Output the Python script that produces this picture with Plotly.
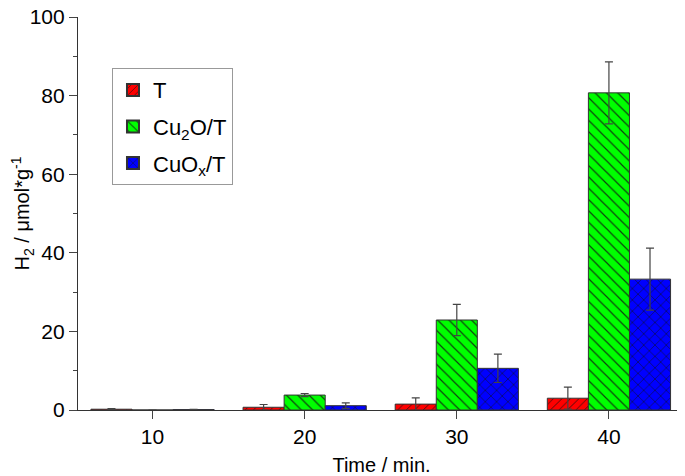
import plotly.graph_objects as go

times = [10, 20, 30, 40]
series = ["T", "Cu<sub>2</sub>O/T", "CuO<sub>x</sub>/T"]
h2_t = [0.2, 0.7, 1.5, 3.0]
err_t = [0.15, 0.7, 1.6, 2.8]
h2_cu2o = [0.0, 3.8, 22.9, 80.7]
err_cu2o = [0.0, 0.4, 4.0, 7.9]
h2_cuox = [0.1, 1.1, 10.6, 33.3]
err_cuox = [0.05, 0.7, 3.6, 7.9]

colors = ["#ff0000", "#00ff00", "#0000ff"]
shapes = ["/", "\\", "x"]
pattern_sizes = [6, 8, 8]

fig = go.Figure()
for i, (name, vals, errs) in enumerate(zip(series, [h2_t, h2_cu2o, h2_cuox],
                                           [err_t, err_cu2o, err_cuox])):
    fig.add_trace(go.Bar(
        x=times, y=vals, name=name, legendgroup=f"g{i}",
        marker=dict(color=colors[i], line=dict(color="#333333", width=1),
                    pattern=dict(shape=shapes[i], fgcolor="#111111", fgopacity=0.8,
                                 size=pattern_sizes[i], solidity=0.15)),
        error_y=dict(type="data", array=errs, color="#444444", thickness=1.2, width=4),
    ))

# the page body adds 8px of margin, so the figure is 8px smaller than the window
fig.update_layout(
    width=677, height=468,
    margin=dict(l=70, r=0, t=9, b=66),
    barmode="group", bargap=0.19, bargroupgap=0,
    plot_bgcolor="white", paper_bgcolor="white",
    font=dict(family="Liberation Sans, Arial", size=21, color="black"),
    legend=dict(x=0.056, y=0.87, xanchor="left", yanchor="top",
                bordercolor="#999999", borderwidth=1, bgcolor="white",
                font=dict(size=22), itemsizing="constant", tracegroupgap=5),
    xaxis=dict(range=[5.1, 45], tickvals=times, ticks="outside", ticklen=8,
               showline=True, linecolor="#333333", linewidth=1.2, showgrid=False,
               zeroline=False, automargin=False, ticklabeloverflow="allow",
               title=dict(text="Time / min.", standoff=18, font=dict(size=20))),
    yaxis=dict(range=[0, 100], dtick=20, ticks="outside", ticklen=8,
               showline=True, linecolor="#333333", linewidth=1.2, showgrid=False,
               zeroline=False, automargin=False, ticklabeloverflow="allow",
               minor=dict(dtick=10, ticks="outside", ticklen=4, showgrid=False),
               title=dict(text="H<sub>2</sub> / μmol*g<sup>-1</sup>", standoff=10,
                          font=dict(size=20))),
)

fig.write_html("out.html")
